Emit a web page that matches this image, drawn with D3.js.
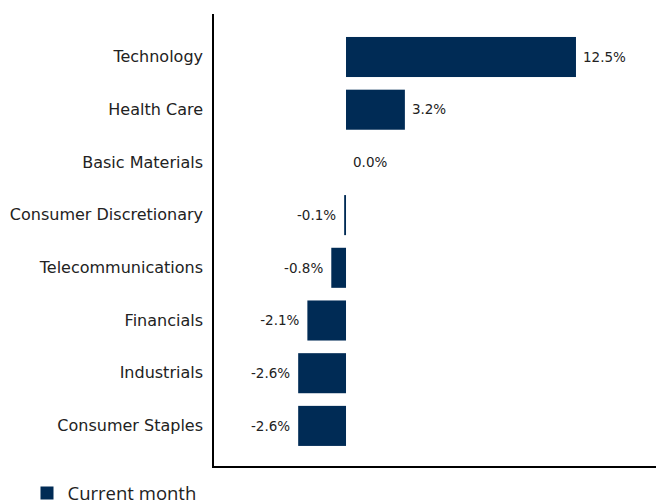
<!DOCTYPE html>
<html>
<head>
<meta charset="utf-8">
<script src="https://cdn.jsdelivr.net/npm/d3@7"></script>
<style>
  html, body { margin: 0; padding: 0; background: #fff; }
  svg { display: block; }
</style>
</head>
<body>
<svg id="chart" width="656" height="502"></svg>
<script>
// Sector returns for the current month (%)
const sectors = ["Technology", "Health Care", "Basic Materials", "Consumer Discretionary",
                 "Telecommunications", "Financials", "Industrials", "Consumer Staples"];
const currentMonth = [12.5, 3.2, 0.0, -0.1, -0.8, -2.1, -2.6, -2.6];
const legendLabels = ["Current month"];

const barColor = "#002b55";
const textColor = "#222";
const labelFont = "'DejaVu Sans', sans-serif";

const svg = d3.select("#chart");

const plot = { left: 213, right: 656, top: 14, bottom: 467 };

const x = d3.scaleLinear().domain([-7.23, 16.85]).range([plot.left, plot.right]);
const y = d3.scaleBand().domain(sectors).range([30.65, 452.25])
  .paddingInner(0.24).paddingOuter(0.12);

const rows = sectors.map((s, i) => ({ sector: s, value: currentMonth[i] }));

// Bars
svg.append("g").selectAll("rect").data(rows).join("rect")
  .attr("x", d => x(Math.min(0, d.value)))
  .attr("y", d => y(d.sector))
  .attr("width", d => Math.abs(x(d.value) - x(0)))
  .attr("height", y.bandwidth())
  .attr("fill", barColor);

// Value labels
svg.append("g").selectAll("text").data(rows).join("text")
  .attr("x", d => d.value < 0 ? x(d.value) - 8 : x(d.value) + 7)
  .attr("y", d => y(d.sector) + y.bandwidth() / 2)
  .attr("dy", "0.35em")
  .attr("text-anchor", d => d.value < 0 ? "end" : "start")
  .attr("font-family", labelFont)
  .attr("font-size", 13.5)
  .attr("fill", textColor)
  .text(d => d.value.toFixed(1) + "%");

// Category axis
const yAxis = svg.append("g")
  .attr("transform", `translate(${plot.left},0)`)
  .call(d3.axisLeft(y).tickSize(0).tickPadding(10));
yAxis.select(".domain").remove();
yAxis.selectAll("text")
  .attr("font-family", labelFont)
  .attr("font-size", 16)
  .attr("fill", textColor);

// Axis lines
svg.append("line")
  .attr("x1", plot.left).attr("x2", plot.left)
  .attr("y1", plot.top).attr("y2", plot.bottom + 1)
  .attr("stroke", "#000").attr("stroke-width", 2);
svg.append("line")
  .attr("x1", plot.left - 1).attr("x2", plot.right)
  .attr("y1", plot.bottom).attr("y2", plot.bottom)
  .attr("stroke", "#000").attr("stroke-width", 2);

// Legend
const legend = svg.append("g").attr("transform", "translate(40.5,486.5)");
legend.append("rect").attr("width", 13).attr("height", 13).attr("fill", barColor);
legend.append("text")
  .attr("x", 27).attr("y", 13.5)
  .attr("font-family", "'Open Sans', sans-serif")
  .attr("font-size", 18.5)
  .attr("fill", textColor)
  .text(legendLabels[0]);
</script>
</body>
</html>
